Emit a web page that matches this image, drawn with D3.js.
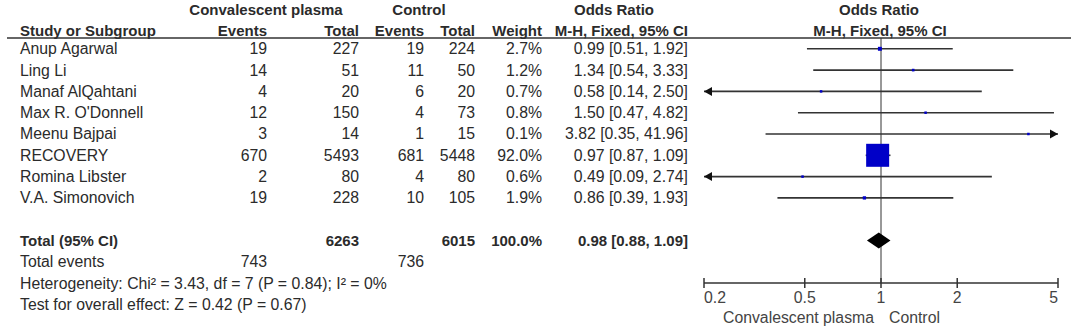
<!DOCTYPE html>
<html>
<head>
<meta charset="utf-8">
<script src="https://cdn.jsdelivr.net/npm/d3@7"></script>
<style>
  body { margin: 0; background: #fff; }
  svg text { font-family: "Liberation Sans", Arial, sans-serif; font-size: 15.8px; fill: #2b2b2b; }
  svg text.b { font-weight: bold; font-size: 15px; }
</style>
</head>
<body>
<svg id="forest" width="1084" height="333"></svg>
<script>
const studies    = ["Anup Agarwal", "Ling Li", "Manaf AlQahtani", "Max R. O'Donnell", "Meenu Bajpai", "RECOVERY", "Romina Libster", "V.A. Simonovich"];
const expEvents  = [19, 14, 4, 12, 3, 670, 2, 19];
const expTotal   = [227, 51, 20, 150, 14, 5493, 80, 228];
const ctrlEvents = [19, 11, 6, 4, 1, 681, 4, 10];
const ctrlTotal  = [224, 50, 20, 73, 15, 5448, 80, 105];
const weights    = [2.7, 1.2, 0.7, 0.8, 0.1, 92.0, 0.6, 1.9];
const orEst      = [0.99, 1.34, 0.58, 1.50, 3.82, 0.97, 0.49, 0.86];
const orLow      = [0.51, 0.54, 0.14, 0.47, 0.35, 0.87, 0.09, 0.39];
const orHigh     = [1.92, 3.33, 2.50, 4.82, 41.96, 1.09, 2.74, 1.93];

const pooled      = [0.98, 0.88, 1.09];   // estimate, low, high
const pooledTotal = [6263, 6015];         // plasma, control
const pooledEvents = [743, 736];
const heterogeneity = "Heterogeneity: Chi\u00b2 = 3.43, df = 7 (P = 0.84); I\u00b2 = 0%";
const overallTest   = "Test for overall effect: Z = 0.42 (P = 0.67)";
const axisTicks = [0.2, 0.5, 1, 2, 5];

const svg = d3.select("#forest");
const INK = "#333";
const BLUE = "#0000c8";

const rowY = i => 48.8 + 21.3 * i;   // centre of row i
const base = i => rowY(i) + 5.4;     // text baseline

const x = d3.scaleLog().domain([0.2, 5]).range([704, 1058]);
const plotLo = x.domain()[0], plotHi = x.domain()[1];

// column right edges
const col = { name: 20, ev1: 267, tot1: 359, ev2: 424, tot2: 475, wt: 542, or: 688 };

function txt(xp, y, s, anchor, cls) {
    return svg.append("text").attr("x", xp).attr("y", y)
        .attr("text-anchor", anchor || "end")
        .attr("class", cls || null).text(s);
}

// headers
txt(266, 15, "Convalescent plasma", "middle", "b");
txt(419, 15, "Control", "middle", "b");
txt(614, 15, "Odds Ratio", "middle", "b");
txt(879, 15, "Odds Ratio", "middle", "b");
txt(col.name, 35.5, "Study or Subgroup", "start", "b");
txt(col.ev1, 35.5, "Events", "end", "b");
txt(col.tot1, 35.5, "Total", "end", "b");
txt(col.ev2, 35.5, "Events", "end", "b");
txt(col.tot2, 35.5, "Total", "end", "b");
txt(col.wt, 35.5, "Weight", "end", "b");
txt(col.or, 35.5, "M-H, Fixed, 95% CI", "end", "b");
txt(880, 35.5, "M-H, Fixed, 95% CI", "middle", "b");

svg.append("line").attr("x1", 7).attr("x2", 1071).attr("y1", 38).attr("y2", 38)
    .attr("stroke", INK).attr("stroke-width", 1.5);

// study rows
const f2 = d3.format(".2f");
studies.forEach((s, i) => {
    const y = base(i);
    txt(col.name, y, s, "start");
    txt(col.ev1, y, expEvents[i]);
    txt(col.tot1, y, expTotal[i]);
    txt(col.ev2, y, ctrlEvents[i]);
    txt(col.tot2, y, ctrlTotal[i]);
    txt(col.wt, y, weights[i].toFixed(1) + "%");
    txt(col.or, y, `${f2(orEst[i])} [${f2(orLow[i])}, ${f2(orHigh[i])}]`);
});

// line of no effect
svg.append("line").attr("x1", x(1)).attr("x2", x(1)).attr("y1", 38).attr("y2", 283)
    .attr("stroke", INK).attr("stroke-width", 1);

// confidence intervals
const gCI = svg.append("g");
const side = d3.scaleSqrt().domain([0, 92]).range([0, 23]);
studies.forEach((s, i) => {
    const y = rowY(i);
    const lo = Math.max(orLow[i], plotLo), hi = Math.min(orHigh[i], plotHi);
    const x1 = x(lo), x2 = x(hi);
    gCI.append("line").attr("x1", x1).attr("x2", x2).attr("y1", y).attr("y2", y)
        .attr("stroke", INK).attr("stroke-width", 1.6);
    if (orLow[i] < plotLo) {
        gCI.append("path").attr("d", `M${x1},${y}l8,-4.5v9z`).attr("fill", "#111");
    }
    if (orHigh[i] > plotHi) {
        gCI.append("path").attr("d", `M${x2},${y}l-8,-4.5v9z`).attr("fill", "#111");
    }
    const sz = Math.max(side(weights[i]), 2.5);
    gCI.append("rect").attr("x", x(orEst[i]) - sz / 2).attr("y", y - sz / 2)
        .attr("width", sz).attr("height", sz).attr("fill", BLUE);
});

// pooled row
const ty = rowY(9);
txt(col.name, base(9), "Total (95% CI)", "start", "b");
txt(col.tot1, base(9), pooledTotal[0], "end", "b");
txt(col.tot2, base(9), pooledTotal[1], "end", "b");
txt(col.wt, base(9), "100.0%", "end", "b");
txt(col.or, base(9), `${f2(pooled[0])} [${f2(pooled[1])}, ${f2(pooled[2])}]`, "end", "b");
svg.append("path")
    .attr("d", `M${x(pooled[1])},${ty}L${x(pooled[0])},${ty - 8}L${x(pooled[2])},${ty}L${x(pooled[0])},${ty + 8}Z`)
    .attr("fill", "#000");

txt(col.name, base(10), "Total events", "start");
txt(col.ev1, base(10), pooledEvents[0]);
txt(col.ev2, base(10), pooledEvents[1]);
txt(col.name, base(11), heterogeneity, "start");
txt(col.name, base(12), overallTest, "start");

// axis
const ay = 283;
const gA = svg.append("g").attr("transform", `translate(0,${ay})`);
gA.append("line").attr("x1", x(plotLo)).attr("x2", x(plotHi)).attr("stroke", INK).attr("stroke-width", 1.5);
axisTicks.forEach((t, k) => {
    gA.append("line").attr("x1", x(t)).attr("x2", x(t)).attr("y1", -5).attr("y2", 5)
        .attr("stroke", INK).attr("stroke-width", 1.5);
    const anchor = k === 0 ? "start" : (k === axisTicks.length - 1 ? "end" : "middle");
    gA.append("text").attr("x", x(t)).attr("y", 20).attr("text-anchor", anchor)
        .style("fill", "#444").text(t);
});
gA.append("text").attr("x", x(1) - 7).attr("y", 40).attr("text-anchor", "end")
    .style("fill", "#444").text("Convalescent plasma");
gA.append("text").attr("x", x(1) + 8).attr("y", 40).attr("text-anchor", "start")
    .style("fill", "#444").text("Control");
</script>
</body>
</html>
